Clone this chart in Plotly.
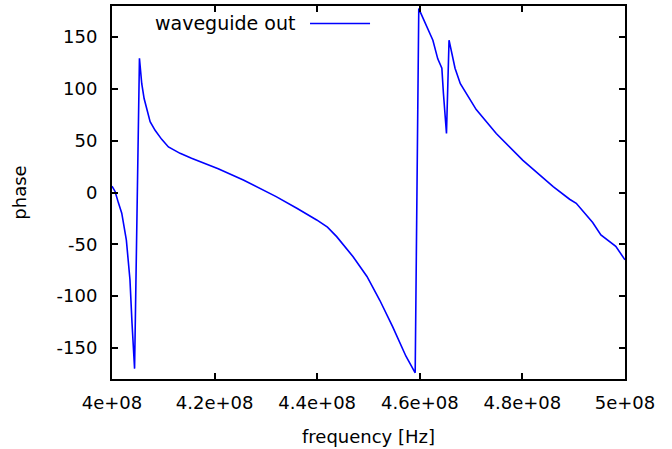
import plotly.graph_objects as go

# frequency [Hz] and phase values
freq = [4.000e8, 4.006e8, 4.0125e8, 4.019e8, 4.028e8, 4.035e8, 4.039e8, 4.044e8,
        4.0535e8, 4.0555e8, 4.058e8, 4.0626e8, 4.068e8, 4.0743e8, 4.084e8, 4.0969e8, 4.11e8,
        4.1327e8, 4.155e8, 4.19e8, 4.207e8,
        4.256e8, 4.32e8, 4.3603e8, 4.399e8, 4.42e8, 4.438e8, 4.47e8, 4.497e8, 4.522e8, 4.547e8,
        4.573e8, 4.591e8, 4.598e8, 4.6255e8, 4.635e8, 4.643e8, 4.646e8, 4.652e8,
        4.657e8, 4.6687e8, 4.679e8, 4.71e8, 4.749e8, 4.801e8, 4.86e8, 4.892e8,
        4.905e8, 4.937e8, 4.953e8, 4.969e8, 4.982e8, 5.000e8]
phase = [6, 1, -10, -20, -46, -84, -126, -170,
         129.5, 115, 105, 90.7, 80, 68.3, 60, 51.3, 44,
         37.8, 33, 26, 23,
         12, -4, -15.2, -26.5, -33.5, -42.6, -62, -81, -104, -129.5,
         -158, -174, 177.5, 147, 129, 120, 96, 57,
         147, 120, 105, 80, 57, 31, 5.6, -6.5,
         -10.4, -29, -41, -47.5, -52, -65]

series_name = "waveguide out"
x_tickvals = [4.0e8, 4.2e8, 4.4e8, 4.6e8, 4.8e8, 5.0e8]
x_ticktext = ["4e+08", "4.2e+08", "4.4e+08", "4.6e+08", "4.8e+08", "5e+08"]
y_tickvals = [-150, -100, -50, 0, 50, 100, 150]
y_ticktext = ["-150", "-100", "-50", "0", "50", "100", "150"]

FONT = "DejaVu Sans"

fig = go.Figure()
fig.add_trace(go.Scatter(x=freq, y=phase, mode="lines", name=series_name,
                         line=dict(color="#0000ff", width=1.6),
                         showlegend=False))

axis_common = dict(showgrid=False, zeroline=False, showline=True, linecolor="black",
                   linewidth=2, mirror="ticks", ticks="inside", ticklen=6,
                   tickwidth=2, tickcolor="black",
                   tickfont=dict(family=FONT, size=18, color="black"))

fig.update_xaxes(range=[4.0e8, 5.0e8], tickvals=x_tickvals, ticktext=x_ticktext,
                 ticklabelstandoff=6,
                 title=dict(text="frequency [Hz]", font=dict(family=FONT, size=18, color="black"),
                            standoff=19),
                 **axis_common)
fig.update_yaxes(range=[-180, 180], tickvals=y_tickvals, ticktext=y_ticktext,
                 ticklabelstandoff=9,
                 title=dict(text="phase", font=dict(family=FONT, size=18, color="black"),
                            standoff=25),
                 **axis_common)

# gnuplot-style key: text then line sample
fig.add_annotation(text=series_name, xref="paper", yref="paper", x=0.361, y=0.955,
                   xanchor="right", yanchor="middle", showarrow=False,
                   font=dict(family=FONT, size=19, color="black"))
fig.add_shape(type="line", xref="paper", yref="paper", x0=0.386, x1=0.503,
              y0=0.953, y1=0.953, line=dict(color="#0000ff", width=1.6))

fig.update_layout(width=672, height=449, paper_bgcolor="white", plot_bgcolor="white",
                  margin=dict(l=111.5, r=46.5, t=5.5, b=70, autoexpand=False),
                  font=dict(family=FONT, size=18, color="black"))

fig.write_html("out.html", config={"displayModeBar": False},
               post_script="document.body.style.margin='0';document.body.style.padding='0';")
